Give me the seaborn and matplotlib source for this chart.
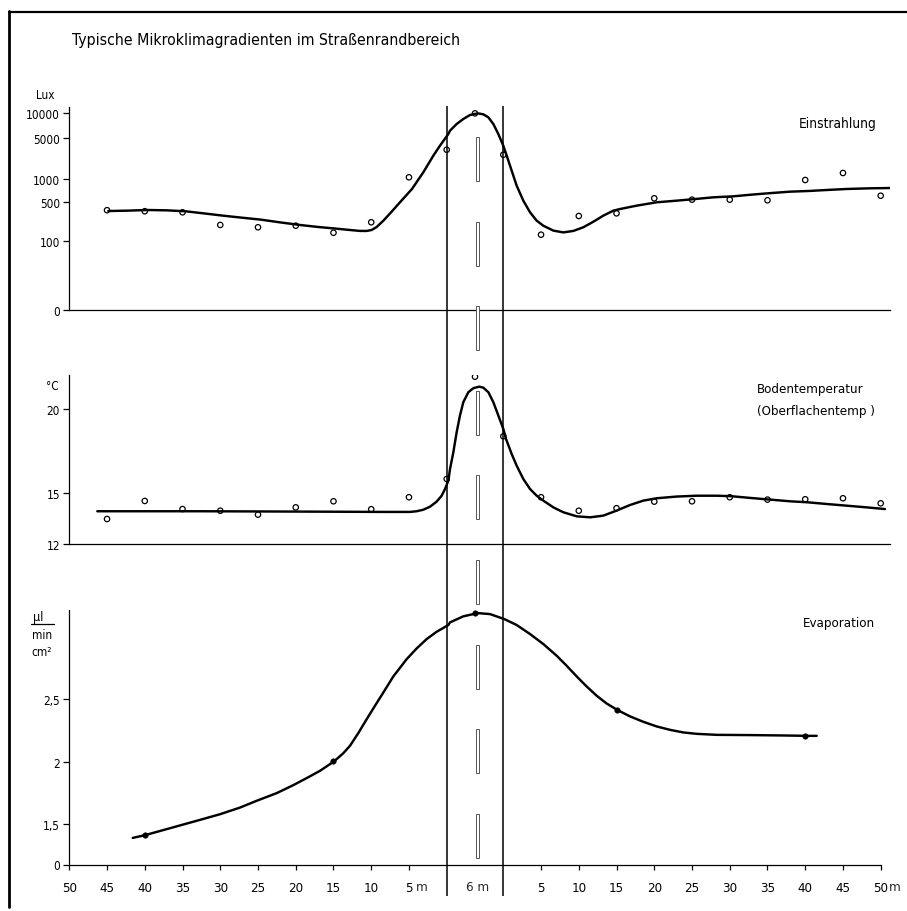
import numpy as np
import pandas as pd
import matplotlib
matplotlib.use("Agg")
import matplotlib.pyplot as plt
import seaborn as sns
from matplotlib.lines import Line2D
from matplotlib.patches import Rectangle

sns.set_style("ticks")
plt.rcParams['font.family'] = ['DejaVu Sans']
plt.rcParams['font.stretch'] = 'condensed'

# ---------------------------------------------------------------------------
# Transect coordinate used by the drawing: road centre at 0, road edges at
# +/-3.75 (the 6 m road is drawn with that width); off-road distance d (m)
# is plotted at -(d+3.75) on the left and +(d+3.75) on the right.
# ---------------------------------------------------------------------------
ROAD_HALF = 3.75
dist_ticks = [50, 45, 40, 35, 30, 25, 20, 15, 10, 5]

# ---- Einstrahlung (Lux) --------------------------------------------------
lux_pts_x = [-48.75, -43.75, -38.75, -33.75, -28.75, -23.75, -18.75, -13.75, -8.75,
             -3.75, 0.0, 3.75,
             8.75, 13.75, 18.75, 23.75, 28.75, 33.75, 38.75, 43.75, 48.75, 53.75]
lux_pts = [360, 345, 330, 195, 177, 189, 141, 218, 1070,
           3180, 9900, 2610,
           130, 283, 316, 563, 541, 541, 531, 971, 1268, 608]

lux_curve_x = [-48.58, -46.15, -43.37, -40.85, -38.33, -35.99, -33.39, -30.91, -28.35,
               -25.83, -23.23, -20.76, -18.33, -16.56, -15.24, -14.35, -13.69, -13.03,
               -12.14, -11.04, -9.94, -8.35, -6.85, -5.52, -4.64, -3.53, -3.31, -2.43,
               -1.55, -0.66, 0.35, 1.10, 1.77, 2.43, 3.09, 3.75, 4.20, 4.86, 5.52,
               6.40, 7.29, 8.17, 9.05, 10.38, 11.70, 13.03, 14.35, 15.68, 17.00,
               18.33, 19.21, 21.42, 24.07, 26.72, 29.15, 31.58, 34.18, 36.65, 39.30,
               41.73, 44.21, 46.59, 49.24, 52.33, 55.20]
lux_curve = [348, 353, 363, 358, 344, 316, 287, 264, 243,
             217, 195, 179, 167, 158, 152, 152, 158, 179,
             233, 339, 500, 743, 1302, 2516, 3736, 5627, 6164, 7396,
             8484, 9467, 9910, 9643, 8882, 7396, 5627, 3736, 2516, 1390, 820,
             525, 330, 233, 189, 154, 143, 152, 177, 223, 287,
             353, 378, 435, 500, 525, 551, 580, 597, 628, 659,
             686, 700, 721, 743, 758, 765]
lux_ticks = [100, 500, 1000, 5000, 10000]
lux_tick_labels = ["100", "500", "1000", "5000", "10000"]

# ---- Bodentemperatur (deg C) ---------------------------------------------
temp_pts_x = lux_pts_x
temp_pts = [13.48, 14.55, 14.07, 13.97, 13.74, 14.17, 14.53, 14.06, 14.77,
            15.85, 21.91, 18.38,
            14.77, 13.97, 14.12, 14.51, 14.53, 14.77, 14.63, 14.65, 14.71, 14.41]

temp_curve_x = [-50.04, -36.43, -23.18, -12.14, -8.61, -7.73, -6.85, -5.96, -5.08,
                -4.42, -3.97, -3.53, -3.31, -2.87, -2.43, -1.99, -1.55, -0.88,
                -0.22, 0.57, 1.10, 1.77, 2.43, 3.09, 3.75, 4.11, 4.86, 5.52, 6.40,
                7.29, 8.17, 9.05, 10.38, 11.70, 13.47, 15.24, 17.00, 18.77, 20.54,
                22.30, 24.07, 26.72, 29.37, 32.02, 34.00, 36.43, 39.08, 41.73,
                44.07, 46.59, 49.24, 51.89, 54.32]
temp_curve = [13.94, 13.94, 13.92, 13.90, 13.90, 13.94, 14.03, 14.21, 14.51,
              14.86, 15.26, 15.75, 16.44, 17.43, 18.62, 19.61, 20.40, 20.99,
              21.23, 21.32, 21.26, 20.99, 20.40, 19.61, 18.82, 18.22, 17.33, 16.64,
              15.85, 15.26, 14.86, 14.57, 14.17, 13.88, 13.64, 13.58, 13.68, 13.98,
              14.31, 14.57, 14.71, 14.81, 14.86, 14.86, 14.83, 14.73, 14.63, 14.53,
              14.47, 14.37, 14.27, 14.17, 14.07]
temp_ticks = [12, 15, 20]

# ---- Evaporation (ul / min cm2) -------------------------------------------
evap_pts_x = [-43.75, -18.75, 0.0, 18.75, 43.75]
evap_pts = [1.415, 2.003, 3.186, 2.412, 2.207]

evap_curve_x = [-45.35, -43.72, -40.85, -38.64, -36.43, -33.78, -31.13, -28.93, -26.28,
                -24.07, -22.30, -20.54, -18.68, -17.44, -16.56, -15.46, -14.35, -13.25,
                -12.14, -10.82, -9.05, -7.73, -6.40, -5.08, -3.53, -3.31, -1.55, 0.35,
                1.99, 3.89, 5.52, 7.29, 9.05, 10.82, 12.14, 13.47, 14.79, 16.12,
                17.44, 18.90, 20.54, 22.30, 24.07, 25.83, 27.60, 29.37, 32.02, 36.43,
                40.85, 43.94, 45.27]
evap_curve = [1.393, 1.415, 1.463, 1.500, 1.537, 1.582, 1.635, 1.689, 1.750,
              1.814, 1.870, 1.928, 2.003, 2.069, 2.128, 2.229, 2.340, 2.447,
              2.553, 2.681, 2.819, 2.904, 2.979, 3.037, 3.091, 3.112, 3.160, 3.186,
              3.178, 3.138, 3.091, 3.019, 2.939, 2.846, 2.766, 2.681, 2.601, 2.527,
              2.465, 2.412, 2.362, 2.319, 2.282, 2.255, 2.234, 2.223, 2.215, 2.213,
              2.210, 2.207, 2.207]
evap_ticks = [1.5, 2, 2.5]
evap_tick_labels = ["1,5", "2", "2,5"]

# ---------------------------------------------------------------------------
# Layout helpers (figure pixels -> figure fraction)
W_PX, H_PX = 907, 912
def fx(x):
    return x / W_PX
def fy(y):
    return 1 - y / H_PX

X_MIN, X_MAX = -53.75, 55.0
PX_PER_UNIT = (880.7 - 69.3) / 107.5
AX_L = fx(69.3)
AX_W = PX_PER_UNIT * (X_MAX - X_MIN) / W_PX

# hand-drawn, roughly logarithmic lux axis: drawn height of each tick above
# the 100-lux mark (px); the lux axis is broken below 100 with "0" at the base
LUX_TICK_HEIGHT = [0.0, 38.7, 62.0, 102.7, 128.0]
_u = np.log10(lux_ticks)
_ue = np.concatenate([[_u[0] - 10], _u, [_u[-1] + 10]])
_he = np.concatenate([[LUX_TICK_HEIGHT[0] - 620], LUX_TICK_HEIGHT,
                      [LUX_TICK_HEIGHT[-1] + 660]])

def lux_fwd(v):
    v = np.clip(np.asarray(v, dtype=float), 1e-9, None)
    return np.interp(np.log10(v), _ue, _he)

def lux_inv(h):
    return 10 ** np.interp(np.asarray(h, dtype=float), _he, _ue)

LUX_BOTTOM = float(lux_inv(-68.5))
LUX_TOP = float(lux_inv(134.0))
EVAP_BREAK = 1.181   # evaporation axis is broken: the drawn "0" sits here
EVAP_TOP = 3.213
TEMP_TOP = 22.01

fig = plt.figure(figsize=(W_PX / 100, H_PX / 100), dpi=100)

ax1 = fig.add_axes([AX_L, fy(310.5), AX_W, (310.5 - 108) / H_PX])
ax2 = fig.add_axes([AX_L, fy(545), AX_W, (545 - 376) / H_PX])
ax3 = fig.add_axes([AX_L, fy(865.5), AX_W, (865.5 - 610.7) / H_PX])

LINE_KW = dict(color="black", linewidth=1.75, sort=False, estimator=None)
PT_KW = dict(marker="o", s=15, facecolor="none", edgecolor="black", linewidth=0.9,
             zorder=4, legend=False)

# Panel 1
ax1.set_yscale("function", functions=(lux_fwd, lux_inv))
sns.lineplot(x=lux_curve_x, y=lux_curve, ax=ax1, **LINE_KW)
sns.scatterplot(x=lux_pts_x, y=lux_pts, ax=ax1, **PT_KW)
ax1.set_ylim(LUX_BOTTOM, LUX_TOP)
ax1.set_yticks([LUX_BOTTOM] + lux_ticks, labels=["0"] + lux_tick_labels)
ax1.minorticks_off()

# Panel 2
sns.lineplot(x=temp_curve_x, y=temp_curve, ax=ax2, **LINE_KW)
sns.scatterplot(x=temp_pts_x, y=temp_pts, ax=ax2, **PT_KW)
ax2.set_ylim(12, TEMP_TOP)
ax2.set_yticks(temp_ticks, labels=[str(t) for t in temp_ticks])

# Panel 3
sns.lineplot(x=evap_curve_x, y=evap_curve, ax=ax3, **LINE_KW)
sns.scatterplot(x=evap_pts_x, y=evap_pts, ax=ax3, marker="o", s=16, color="black",
                edgecolor="black", zorder=4, legend=False)
ax3.set_ylim(EVAP_BREAK, EVAP_TOP)
ax3.set_yticks([EVAP_BREAK] + evap_ticks, labels=["0"] + evap_tick_labels)

xt_pos = [-(d + ROAD_HALF) for d in dist_ticks] + [d + ROAD_HALF for d in dist_ticks[::-1]]
xt_lab = [str(d) for d in dist_ticks] + [str(d) for d in dist_ticks[::-1]]

TICK_FONT = 8.5
XTICK_FONT = 9.5
for ax in (ax1, ax2, ax3):
    ax.set_xlim(X_MIN, X_MAX)
    ax.set_facecolor("none")
    ax.spines["top"].set_visible(False)
    ax.spines["right"].set_visible(False)
    for s in ("left", "bottom"):
        ax.spines[s].set_linewidth(0.9)
        ax.spines[s].set_color("black")
    ax.tick_params(axis="y", direction="out", length=4, width=0.9, pad=2.8,
                   labelsize=TICK_FONT, colors="black")
    ax.set_xlabel("")
    ax.set_ylabel("")

for ax in (ax1, ax2):
    ax.tick_params(axis="x", bottom=False, labelbottom=False)

ax3.spines["bottom"].set_bounds(-53.75, 53.75)
ax3.set_xticks(xt_pos, labels=xt_lab)
ax3.tick_params(axis="x", direction="out", length=3.5, width=0.9, pad=8.3,
                labelsize=XTICK_FONT, colors="black")
# "m" unit after the 5 (left) and 50 (right), and the road width label
ax3.annotate("m", xy=(-(5 + ROAD_HALF), 0), xycoords=("data", "axes fraction"),
             xytext=(9.4, -15.6), textcoords="offset points", ha="center", va="center",
             fontsize=XTICK_FONT)
ax3.annotate("m", xy=(50 + ROAD_HALF, 0), xycoords=("data", "axes fraction"),
             xytext=(10.3, -15.6), textcoords="offset points", ha="center", va="center",
             fontsize=XTICK_FONT)
ax3.annotate("6 m", xy=(0.29, 0), xycoords=("data", "axes fraction"),
             xytext=(0, -15.6), textcoords="offset points", ha="center", va="center",
             fontsize=XTICK_FONT)

# Road overlay: edges and dashed centre marking (y in figure pixel rows)
axr = fig.add_axes([AX_L, fy(897), AX_W, (897 - 107) / H_PX])
axr.set_xlim(X_MIN, X_MAX)
axr.set_ylim(897, 107)
axr.axis("off")
for edge in (-ROAD_HALF, ROAD_HALF):
    axr.axvline(edge, color="black", linewidth=1.1)
for k in range(9):
    y0 = 138 + 84.6 * k
    axr.add_patch(Rectangle((0.15, y0), 0.42, 44, facecolor="white",
                            edgecolor="#555555", linewidth=0.7))

# Texts
TXT = dict(color="black")
fig.text(fx(72), fy(45), "Typische Mikroklimagradienten im Straßenrandbereich",
         ha="left", va="baseline", fontsize=11.3, **TXT)
fig.text(fx(36), fy(99), "Lux", ha="left", va="baseline", fontsize=8.5, **TXT)
fig.text(fx(876), fy(128), "Einstrahlung", ha="right", va="baseline", fontsize=9.8, **TXT)
fig.text(fx(46), fy(390), "°C", ha="left", va="baseline", fontsize=8.5, **TXT)
fig.text(fx(757), fy(393), "Bodentemperatur", ha="left", va="baseline", fontsize=9.5, **TXT)
fig.text(fx(757), fy(415), "(Oberflachentemp )", ha="left", va="baseline", fontsize=9.5, **TXT)
fig.text(fx(875), fy(627), "Evaporation", ha="right", va="baseline", fontsize=9.5, **TXT)
fig.text(fx(33), fy(621), "µl", ha="left", va="baseline", fontsize=9, **TXT)
fig.add_artist(Line2D([fx(31), fx(54)], [fy(624.5), fy(624.5)],
                      transform=fig.transFigure, color="black", linewidth=0.9))
fig.text(fx(32), fy(639.5), "min", ha="left", va="baseline", fontsize=8.5, **TXT)
fig.text(fx(31), fy(656), "cm²", ha="left", va="baseline", fontsize=8.5, **TXT)

# Frame (left and top border of the original figure)
fig.add_artist(Line2D([fx(9), fx(9)], [fy(12), fy(908)], transform=fig.transFigure,
                      color="black", linewidth=2.0))
fig.add_artist(Line2D([fx(9), 1.0], [fy(13), fy(13)], transform=fig.transFigure,
                      color="black", linewidth=1.6))

fig.savefig("out.png", dpi=100, facecolor="white")
